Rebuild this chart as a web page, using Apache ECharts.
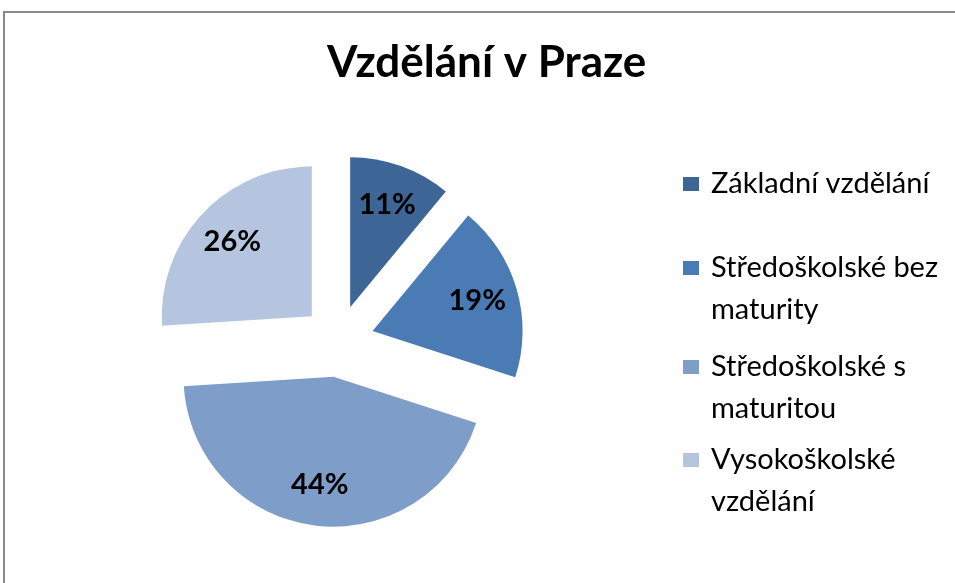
<!DOCTYPE html>
<html>
<head>
<meta charset="utf-8">
<script src="https://cdn.jsdelivr.net/npm/echarts@6/dist/echarts.min.js"></script>
<style>
  html, body { margin: 0; padding: 0; background: #fff; }
  #chart { width: 955px; height: 583px; }
  /* rámeček grafu */
  #frame { position: absolute; left: 3px; top: 11px; width: 1000px; height: 1000px;
           border: 2px solid #8a8a8a; pointer-events: none; }
</style>
</head>
<body>
<div id="chart"></div>
<div id="frame"></div>
<script>
// data
const categories = ['Základní vzdělání', 'Středoškolské bez maturity', 'Středoškolské s maturitou', 'Vysokoškolské vzdělání']
const values = [11, 19, 44, 26]
const legendText = ['Základní vzdělání', 'Středoškolské bez\nmaturity', 'Středoškolské s\nmaturitou', 'Vysokoškolské\nvzdělání']
const colors = ['#3d6697', '#4a7bb4', '#7f9dc9', '#b5c4df']

const font = 'Lato, "Noto Sans", sans-serif'
const center = [338, 341]
const radius = 150
const offset = 36
// svislé pozice středů ikon legendy
const legendIconY = [184, 268, 367, 460]

const chart = echarts.init(document.getElementById('chart'))

const pieData = categories.map((name, i) => ({
    name,
    value: values[i],
    selected: true,
    itemStyle: { color: colors[i] }
}))

// ikona legendy má být u prvního řádku -> prázdné řádky nahoru
const legends = categories.map((name, i) => {
    const lines = legendText[i].split('\n').length
    const lh = 42
    const text = '\n'.repeat(lines - 1) + legendText[i]
    const boxH = lh * (2 * lines - 1)
    return {
        orient: 'vertical',
        left: 683,
        top: legendIconY[i] - boxH / 2,
        padding: 0,
        itemWidth: 16,
        itemHeight: 14,
        itemGap: 0,
        icon: 'rect',
        selectedMode: false,
        data: [name],
        formatter: () => text,
        textStyle: {
            fontFamily: font,
            fontSize: 29,
            color: '#000',
            lineHeight: lh,
            padding: [0, 0, 0, 7]
        }
    }
})

const option = {
    animation: false,
    title: {
        text: 'Vzdělání v Praze',
        left: 322,
        top: 36,
        textStyle: { fontFamily: font, fontSize: 44, fontWeight: 'bold', color: '#000' }
    },
    legend: legends,
    series: [
        {
            type: 'pie',
            center,
            radius,
            startAngle: 90,
            selectedMode: 'multiple',
            selectedOffset: offset,
            label: { show: false },
            labelLine: { show: false },
            emphasis: { disabled: true },
            data: pieData
        },
        {
            // jen popisky s procenty
            type: 'pie',
            center,
            radius: [62, radius],
            startAngle: 90,
            silent: true,
            selectedMode: 'multiple',
            selectedOffset: offset,
            itemStyle: { color: 'rgba(0,0,0,0)' },
            label: {
                show: true,
                position: 'inside',
                formatter: '{d}%',
                fontFamily: font,
                fontSize: 29,
                fontWeight: 'bold',
                color: '#000'
            },
            labelLine: { show: false },
            emphasis: { disabled: true },
            data: categories.map((name, i) => ({ name, value: values[i], selected: true }))
        }
    ]
}
chart.setOption(option)
window.addEventListener('resize', () => {
    chart.resize()
})
</script>
</body>
</html>
